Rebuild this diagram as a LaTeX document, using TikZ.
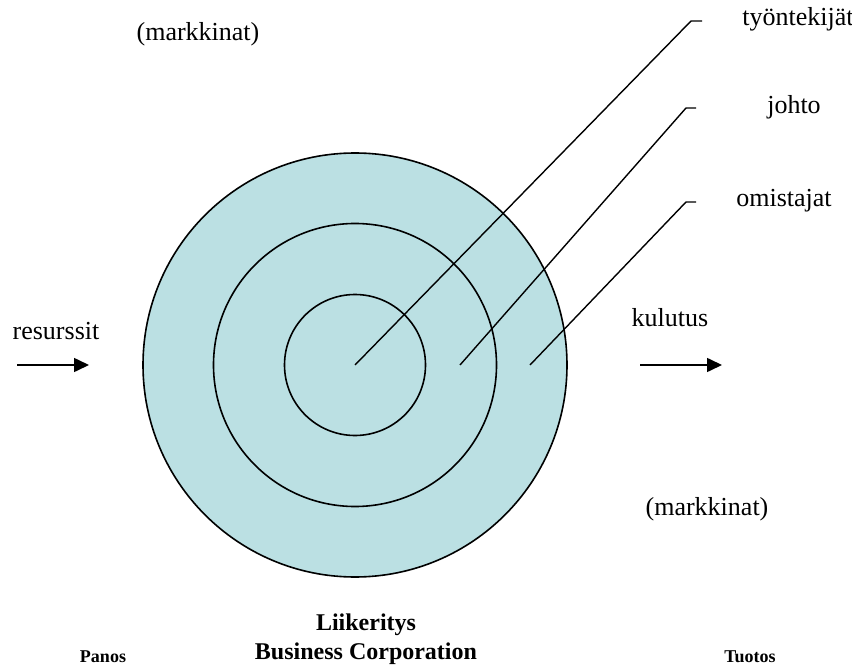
\documentclass[tikz,border=0pt]{standalone}
\usepackage{fontspec}
\setmainfont{Liberation Serif}
\usetikzlibrary{arrows.meta}
\definecolor{ringfill}{RGB}{187,224,227}
\tikzset{
  ring/.style={circle, draw=black, line width=1.6pt, inner sep=0pt},
  lbl/.style={inner sep=0pt, font=\fontsize{26}{30}\selectfont},
  blbl/.style={inner sep=0pt, font=\bfseries\fontsize{24}{29}\selectfont, align=center},
  slbl/.style={inner sep=0pt, font=\bfseries\fontsize{18}{22}\selectfont},
  leader/.style={line width=1.4pt},
  flow/.style={line width=1.6pt, -{Triangle[length=15pt,width=14pt]}}
}
\begin{document}
\begin{tikzpicture}[x=1pt,y=-1pt]
\useasboundingbox (0,0) rectangle (852,666);
% circles
\node[ring, fill=ringfill, minimum size=424pt] (outer) at (355,365) {};
\node[ring, minimum size=283pt] (middle) at (355,365) {};
\node[ring, minimum size=141pt] (inner) at (355,365) {};
% leader lines
\coordinate (s1) at (355,365);
\coordinate (c1) at (691,21);
\coordinate (e1) at (702,21);
\coordinate (s2) at (460,365);
\coordinate (c2) at (686,108);
\coordinate (e2) at (696,108);
\coordinate (s3) at (530,365);
\coordinate (c3) at (686,202);
\coordinate (e3) at (696,202);
\draw[leader] (s1) -- (c1) -- (e1);
\draw[leader] (s2) -- (c2) -- (e2);
\draw[leader] (s3) -- (c3) -- (e3);
% labels
\node[lbl] (tyo) at (798,19) {työntekijät};
\node[lbl] (johto) at (794,107) {johto};
\node[lbl] (omis) at (784,201) {omistajat};
\node[lbl] (mk1) at (198,34) {(markkinat)};
\node[lbl] (mk2) at (707,509) {(markkinat)};
\node[lbl] (res) at (56,331) {resurssit};
\node[lbl] (kul) at (670,318) {kulutus};
% arrows
\coordinate (a1s) at (17,365);
\coordinate (a1e) at (89,365);
\coordinate (a2s) at (640,365);
\coordinate (a2e) at (722,365);
\draw[flow] (a1s) -- (a1e);
\draw[flow] (a2s) -- (a2e);
% bottom texts
\node[blbl] (corp) at (366,639) {Liikeritys\\Business Corporation};
\node[slbl] (panos) at (103,657) {Panos};
\node[slbl] (tuotos) at (750,657) {Tuotos};
\end{tikzpicture}
\end{document}
